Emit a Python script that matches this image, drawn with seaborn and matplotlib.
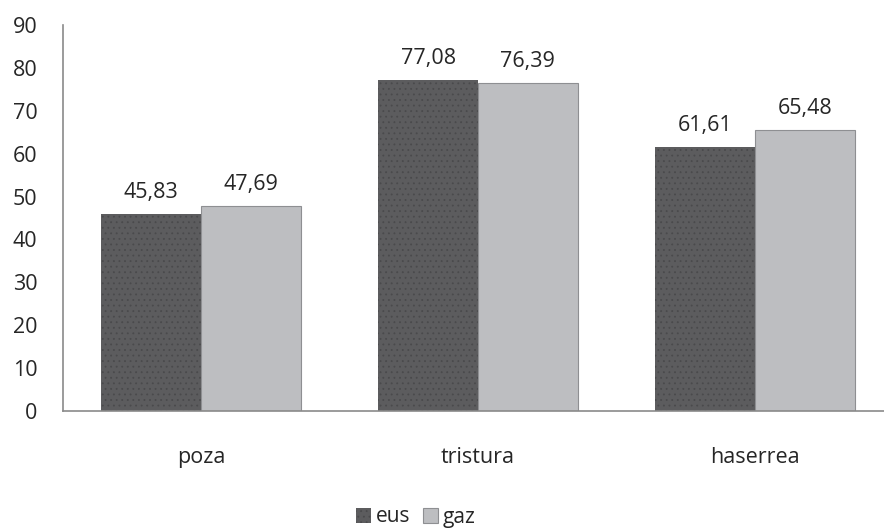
import pandas as pd
import matplotlib.pyplot as plt
import matplotlib.patches as mpatches
import seaborn as sns

# Datuak
categories = ['poza', 'tristura', 'haserrea']
eus = [45.83, 77.08, 61.61]
gaz = [47.69, 76.39, 65.48]
series = ['eus', 'gaz']

df = pd.DataFrame({
    'kategoria': categories * 2,
    'taldea': ['eus'] * 3 + ['gaz'] * 3,
    'balioa': eus + gaz,
})

sns.set_style('white')
plt.rcParams['font.family'] = ['Open Sans', 'DejaVu Sans']
plt.rcParams['hatch.linewidth'] = 0.6

fig = plt.figure(figsize=(8.84, 5.29), dpi=100)
ax = fig.add_axes([62.5 / 884, 1 - 411 / 529, 831 / 884, (411 - 25) / 529])

colors = {'eus': '#5c5c5e', 'gaz': '#bdbec1'}
sns.barplot(data=df, x='kategoria', y='balioa', hue='taldea', order=categories,
            hue_order=series, palette=colors, width=0.72, saturation=1,
            ax=ax, legend=False)

for cont, name in zip(ax.containers, series):
    for bar in cont:
        if name == 'eus':
            bar.set_hatch('...')
            bar.set_edgecolor('#4a4a4c')
            bar.set_linewidth(0)
        else:
            bar.set_edgecolor('#8e8f92')
            bar.set_linewidth(0.8)
    labels = [f'{v:.2f}'.replace('.', ',') for v in cont.datavalues]
    ax.bar_label(cont, labels=labels, padding=8, fontsize=15.5, color='#262626')

ax.set_ylim(0, 90)
ax.set_yticks(range(0, 91, 10))
ax.set_xlabel('')
ax.set_ylabel('')
ax.tick_params(axis='both', length=0, labelsize=15.5, colors='#262626')
ax.tick_params(axis='x', pad=26)
ax.tick_params(axis='y', pad=18)
for s in ['top', 'right']:
    ax.spines[s].set_visible(False)
for s in ['left', 'bottom']:
    ax.spines[s].set_color('#8a8a8a')
    ax.spines[s].set_linewidth(1.2)

handles = [mpatches.Patch(facecolor=colors['eus'], edgecolor='#4a4a4c', hatch='...', linewidth=0),
           mpatches.Patch(facecolor=colors['gaz'], edgecolor='#8e8f92', linewidth=0.8)]
fig.legend(handles, series, loc='center', bbox_to_anchor=(416 / 884, 1 - 517 / 529), ncol=2,
           frameon=False, fontsize=15, handlelength=0.7, handleheight=0.7,
           handletextpad=0.25, columnspacing=0.6)

fig.savefig('out.png', dpi=100)
